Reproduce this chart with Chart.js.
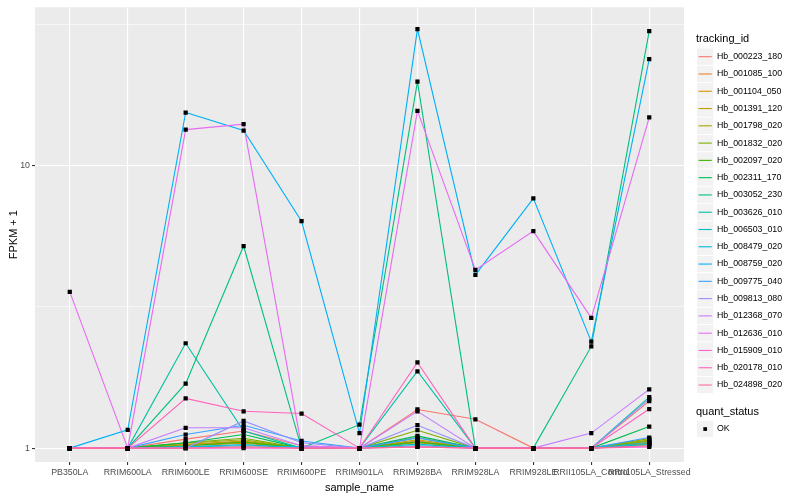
<!DOCTYPE html>
<html>
<head>
<meta charset="utf-8">
<script src="https://cdn.jsdelivr.net/npm/chart.js@4.4.1/dist/chart.umd.min.js"></script>
<style>
  html, body { margin: 0; padding: 0; background: #ffffff; }
  #wrap { width: 800px; height: 500px; position: relative; }
</style>
</head>
<body>
<div id="wrap"><canvas id="chart"></canvas></div>
<script>
// sample names on the x axis
const sampleNames = ['PB350LA', 'RRIM600LA', 'RRIM600LE', 'RRIM600SE', 'RRIM600PE', 'RRIM901LA',
    'RRIM928BA', 'RRIM928LA', 'RRIM928LE', 'RRII105LA_Control', 'RRII105LA_Stressed'];

const trackingIds = ['Hb_000223_180', 'Hb_001085_100', 'Hb_001104_050', 'Hb_001391_120', 'Hb_001798_020',
    'Hb_001832_020', 'Hb_002097_020', 'Hb_002311_170', 'Hb_003052_230', 'Hb_003626_010',
    'Hb_006503_010', 'Hb_008479_020', 'Hb_008759_020', 'Hb_009775_040', 'Hb_009813_080',
    'Hb_012368_070', 'Hb_012636_010', 'Hb_015909_010', 'Hb_020178_010', 'Hb_024898_020'];

// ggplot hue palette, 20 levels
const hueColors = ['#F8766D', '#EA8331', '#D89000', '#C09B00', '#A3A500', '#7CAE00', '#39B600', '#00BB4E',
    '#00BF7D', '#00C1A3', '#00BFC4', '#00BAE0', '#00B0F6', '#35A2FF', '#9590FF', '#C77CFF',
    '#E76BF3', '#FA62DB', '#FF62BC', '#FF6C91'];

// FPKM + 1 per sample
const hb000223 = [1, 1, 1.076, 1.15, 1.02, 1, 1.37, 1.265, 1, 1, 1.467];
const hb001085 = [1, 1, 1.03, 1.05, 1, 1, 1.06, 1, 1, 1, 1.05];
const hb001104 = [1, 1, 1.02, 1.04, 1, 1, 1.045, 1, 1, 1, 1.04];
const hb001391 = [1, 1, 1.03, 1.06, 1, 1, 1.07, 1, 1, 1, 1.06];
const hb001798 = [1, 1, 1.04, 1.07, 1, 1, 1.09, 1, 1, 1, 1.08];
const hb001832 = [1, 1, 1.044, 1.084, 1, 1, 1.157, 1, 1, 1, 1.067];
const hb002097 = [1, 1, 1.02, 1.05, 1, 1, 1.052, 1, 1, 1, 1.03];
const hb002311 = [1, 1, 1.044, 1.117, 1, 1, 1.105, 1, 1, 1, 1.192];
const hb003052 = [1, 1, 1.69, 5.19, 1, 1.21, 19.8, 1, 1, 2.29, 29.9];
const hb003626 = [1, 1, 2.35, 1.15, 1, 1, 1.87, 1, 1, 1, 1.516];
const hb006503 = [1, 1, 1.01, 1.03, 1, 1, 1.033, 1, 1, 1, 1.047];
const hb008479 = [1, 1, 1.01, 1.02, 1.01, 1, 1.02, 1, 1, 1, 1.03];
const hb008759 = [1, 1.16, 15.4, 13.3, 6.35, 1.13, 30.4, 4.10, 7.65, 2.38, 23.8];
const hb009775 = [1, 1, 1.117, 1.205, 1.06, 1, 1.087, 1, 1, 1, 1.09];
const hb009813 = [1, 1, 1.0, 1.248, 1.044, 1, 1.205, 1, 1, 1, 1.49];
const hb012368 = [1, 1, 1.18, 1.18, 1.02, 1, 1.35, 1, 1, 1.13, 1.613];
const hb012636 = [3.57, 1, 13.4, 14.0, 1.01, 1, 15.6, 4.27, 5.86, 2.89, 14.8];
const hb015909 = [1, 1, 1.0, 1.0, 1, 1, 1.01, 1, 1, 1, 1.01];
const hb020178 = [1, 1, 1.50, 1.35, 1.325, 1, 2.01, 1, 1, 1, 1.375];
const hb024898 = [1, 1, 1.0, 1.01, 1, 1, 1.01, 1, 1, 1, 1.02];

const series = [hb000223, hb001085, hb001104, hb001391, hb001798, hb001832, hb002097, hb002311,
    hb003052, hb003626, hb006503, hb008479, hb008759, hb009775, hb009813, hb012368,
    hb012636, hb015909, hb020178, hb024898];

// y axis: labelled breaks and minor breaks (log10 steps of 0.5)
const yBreaks = [1, 10];
const yMinorBreaks = [Math.sqrt(10), Math.pow(10, 1.5)];

const FONT = 'Liberation Sans, Arial, Helvetica, sans-serif';

const toPoints = vals => vals.map((v, i) => ({ x: i, y: v }));

const lineSets = series.map((vals, k) => ({
    label: trackingIds[k],
    data: toPoints(vals),
    borderColor: hueColors[k],
    borderWidth: 1.1,
    pointRadius: 0,
    fill: false,
    tension: 0,
    order: series.length - k
}));

const pointSet = {
    label: 'OK',
    type: 'scatter',
    data: series.flatMap(toPoints),
    pointStyle: 'rect',
    pointRadius: 3,
    pointBackgroundColor: '#000000',
    pointBorderColor: '#000000',
    pointBorderWidth: 0,
    showLine: false,
    order: 0
};

const panelBackground = {
    id: 'panelBackground',
    beforeDraw(chart) {
        const { ctx, chartArea: a } = chart;
        ctx.save();
        ctx.fillStyle = '#EBEBEB';
        ctx.fillRect(a.left, a.top, a.right - a.left, a.bottom - a.top);
        ctx.restore();
    }
};

// ggplot style legend on the right
const sideLegend = {
    id: 'sideLegend',
    afterDraw(chart) {
        const ctx = chart.ctx;
        const step = 17.28;
        const x0 = 697;
        ctx.save();
        ctx.textBaseline = 'middle';
        ctx.textAlign = 'left';
        ctx.fillStyle = '#000000';
        ctx.font = '11px ' + FONT;
        ctx.fillText('tracking_id', 696, 39);
        ctx.font = '8.8px ' + FONT;
        trackingIds.forEach((id, k) => {
            const cy = 56.7 + step * k;
            ctx.fillStyle = '#F2F2F2';
            ctx.fillRect(x0, cy - step / 2 + 0.5, step - 1, step - 1);
            ctx.strokeStyle = hueColors[k];
            ctx.lineWidth = 1.1;
            ctx.beginPath();
            ctx.moveTo(x0 + 1.5, cy);
            ctx.lineTo(x0 + step - 2.5, cy);
            ctx.stroke();
            ctx.fillStyle = '#000000';
            ctx.fillText(id, 717, cy);
        });
        ctx.font = '11px ' + FONT;
        ctx.fillText('quant_status', 696, 412);
        const cy = 429;
        ctx.fillStyle = '#F2F2F2';
        ctx.fillRect(x0, cy - step / 2 + 0.5, step - 1, step - 1);
        ctx.fillStyle = '#000000';
        ctx.fillRect(x0 + step / 2 - 2.3, cy - 1.8, 3.7, 3.7);
        ctx.font = '8.8px ' + FONT;
        ctx.fillText('OK', 717, cy);
        ctx.restore();
    }
};

const isMinor = v => yMinorBreaks.some(m => Math.abs(m - v) < 1e-6);

new Chart(document.getElementById('chart'), {
    type: 'line',
    data: { datasets: [...lineSets, pointSet] },
    options: {
        responsive: true,
        maintainAspectRatio: false,
        animation: false,
        layout: { padding: { top: 4, right: 116, left: 0, bottom: 0 } },
        plugins: {
            legend: { display: false },
            tooltip: { enabled: false }
        },
        scales: {
            x: {
                type: 'linear',
                min: -0.6,
                max: 10.6,
                afterBuildTicks: s => { s.ticks = sampleNames.map((n, i) => ({ value: i })); },
                afterFit: s => { s.height = 38; },
                border: { display: false },
                grid: { color: '#FFFFFF', lineWidth: 1.1, tickColor: '#333333', tickLength: 3 },
                ticks: {
                    autoSkip: false,
                    maxRotation: 0,
                    minRotation: 0,
                    padding: 2,
                    color: '#4D4D4D',
                    font: { family: FONT, size: 8.8 },
                    callback: v => sampleNames[v]
                },
                title: {
                    display: true,
                    text: 'sample_name',
                    color: '#000000',
                    font: { family: FONT, size: 11 },
                    padding: { top: 0, bottom: 5 }
                }
            },
            y: {
                type: 'logarithmic',
                min: 0.893,
                max: 36.3,
                afterBuildTicks: s => {
                    s.ticks = [...yBreaks, ...yMinorBreaks].sort((a, b) => a - b).map(v => ({ value: v }));
                },
                afterFit: s => { s.width = 35; },
                border: { display: false },
                grid: {
                    color: '#FFFFFF',
                    lineWidth: c => (c.tick && isMinor(c.tick.value)) ? 0.55 : 1.1,
                    tickColor: c => (c.tick && isMinor(c.tick.value)) ? 'rgba(0,0,0,0)' : '#333333',
                    tickLength: 3
                },
                ticks: {
                    padding: 2,
                    color: '#4D4D4D',
                    font: { family: FONT, size: 8.8 },
                    callback: v => yBreaks.includes(v) ? String(v) : ''
                },
                title: {
                    display: true,
                    text: 'FPKM + 1',
                    color: '#000000',
                    font: { family: FONT, size: 11 },
                    padding: { top: 7, bottom: 0 }
                }
            }
        }
    },
    plugins: [panelBackground, sideLegend]
});
</script>
</body>
</html>
